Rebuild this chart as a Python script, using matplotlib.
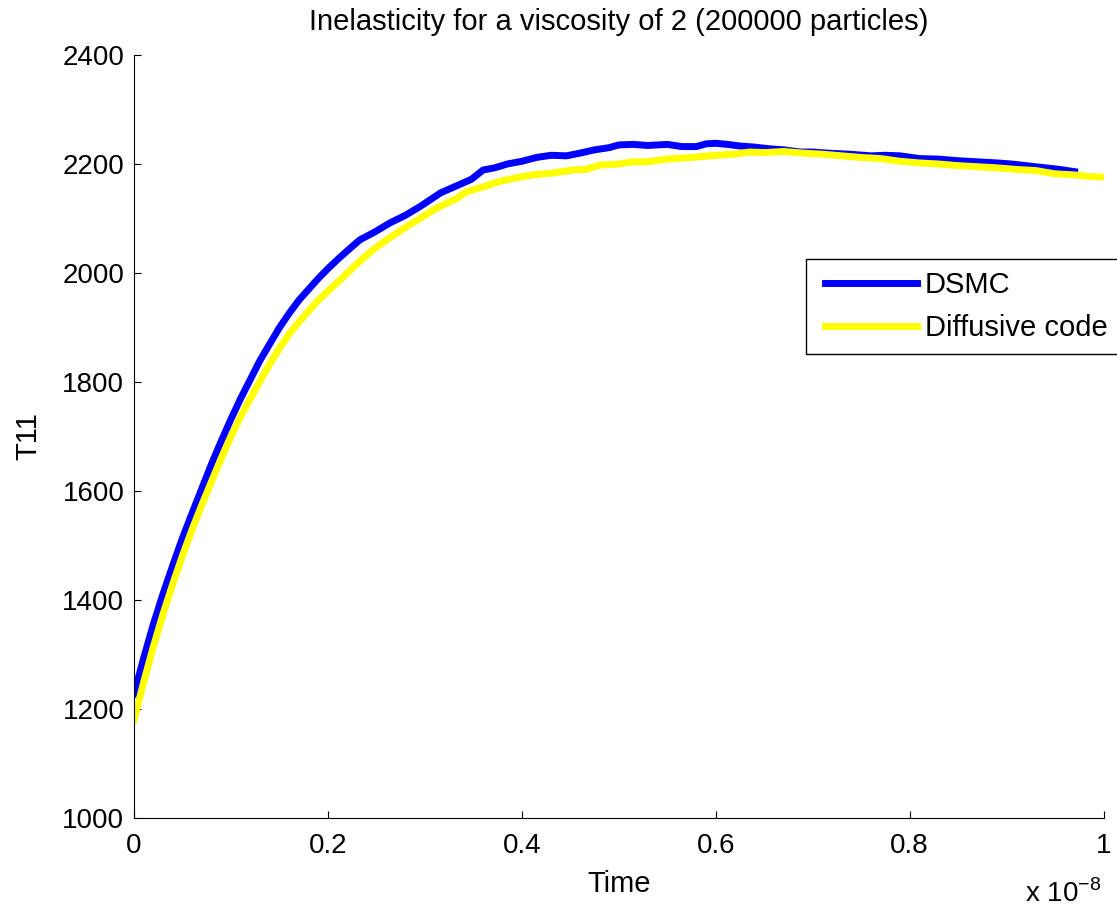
import matplotlib
matplotlib.use("Agg")
import matplotlib.pyplot as plt
from matplotlib.legend_handler import HandlerLine2D

plt.rcParams['font.family'] = ['Liberation Sans', 'DejaVu Sans']

# time (units of 1e-8) and T11
t_dsmc = [0.000, 0.010, 0.020, 0.030, 0.040, 0.050, 0.060, 0.070, 0.080, 0.090,
          0.100, 0.110, 0.120, 0.130, 0.140, 0.150, 0.160, 0.170, 0.180, 0.190,
          0.200, 0.210, 0.222, 0.233, 0.248, 0.264, 0.280, 0.295, 0.306, 0.316,
          0.334, 0.348, 0.360, 0.372, 0.385, 0.400, 0.415, 0.430, 0.446, 0.460,
          0.475, 0.490, 0.500, 0.515, 0.530, 0.550, 0.565, 0.580, 0.590, 0.600,
          0.612, 0.625, 0.640, 0.655, 0.670, 0.687, 0.700, 0.715, 0.738, 0.760,
          0.775, 0.790, 0.810, 0.830, 0.850, 0.870, 0.890, 0.905, 0.920, 0.940,
          0.955, 0.970]
T_dsmc = [1228, 1294, 1356, 1412, 1464, 1514, 1560, 1605, 1650, 1692,
          1732, 1770, 1805, 1840, 1870, 1900, 1926, 1950, 1970, 1990,
          2008, 2025, 2044, 2061, 2075, 2092, 2106, 2122, 2135, 2147,
          2161, 2172, 2189, 2193, 2200, 2205, 2212, 2216, 2215, 2220,
          2226, 2230, 2235, 2236, 2234, 2236, 2232, 2232, 2237, 2238,
          2236, 2233, 2231, 2228, 2226, 2222, 2222, 2220, 2218, 2215,
          2216, 2215, 2210, 2209, 2206, 2204, 2202, 2200, 2197, 2193,
          2190, 2186]

t_diff = [0.000, 0.010, 0.020, 0.030, 0.040, 0.050, 0.060, 0.070, 0.080, 0.090,
          0.100, 0.110, 0.120, 0.130, 0.140, 0.150, 0.160, 0.170, 0.180, 0.190,
          0.205, 0.220, 0.233, 0.246, 0.260, 0.270, 0.281, 0.295, 0.309, 0.320,
          0.333, 0.343, 0.360, 0.377, 0.395, 0.411, 0.430, 0.453, 0.466, 0.480,
          0.500, 0.514, 0.530, 0.549, 0.575, 0.600, 0.618, 0.635, 0.650, 0.670,
          0.690, 0.710, 0.730, 0.750, 0.770, 0.790, 0.810, 0.830, 0.850, 0.870,
          0.890, 0.910, 0.930, 0.950, 0.970, 0.985, 1.000]
T_diff = [1180, 1250, 1315, 1375, 1430, 1482, 1530, 1575, 1618, 1660,
          1700, 1737, 1770, 1802, 1833, 1862, 1888, 1910, 1930, 1950,
          1975, 2000, 2022, 2042, 2060, 2072, 2085, 2100, 2116, 2126,
          2137, 2149, 2158, 2168, 2175, 2180, 2183, 2189, 2190, 2198,
          2200, 2204, 2204, 2209, 2212, 2216, 2218, 2222, 2221, 2223,
          2220, 2218, 2215, 2212, 2210, 2205, 2202, 2200, 2197, 2195,
          2193, 2190, 2188, 2182, 2180, 2177, 2176]

fig = plt.figure(figsize=(11.17, 9.09), dpi=100)
ax = fig.add_axes([0.12, 0.10, 0.868, 0.8395])

ax.plot(t_dsmc, T_dsmc, color='#0000ff', lw=5, label='DSMC')
ax.plot(t_diff, T_diff, color='#ffff00', lw=5, label='Diffusive code')

ax.set_xlim(0, 1)
ax.set_ylim(1000, 2400)
ax.set_xticks([0, 0.2, 0.4, 0.6, 0.8, 1])
ax.set_xticklabels(['0', '0.2', '0.4', '0.6', '0.8', '1'])
ax.set_yticks(range(1000, 2401, 200))

for s in ['top', 'right']:
    ax.spines[s].set_visible(False)
for s in ['left', 'bottom']:
    ax.spines[s].set_linewidth(0.8)
ax.tick_params(direction='in', length=5, width=0.8, labelsize=20)
ax.tick_params(axis='y', pad=7)
ax.tick_params(axis='x', pad=11)

ax.set_title('Inelasticity for a viscosity of 2 (200000 particles)', fontsize=21, pad=18)
ax.set_xlabel('Time', fontsize=21, labelpad=8)
ax.set_ylabel('T11', fontsize=21, labelpad=14)

fig.text(1025 / 1117, 1 - 902 / 909, 'x 10$^{\\mathregular{\u22128}}$', fontsize=20,
         ha='left', va='baseline')

hm = {l: HandlerLine2D(xpad=0.23) for l in ax.get_lines()}
leg = ax.legend(loc='upper left', bbox_to_anchor=(806 / 1117, 1 - 259 / 909),
                bbox_transform=fig.transFigure, fontsize=21, fancybox=False,
                framealpha=1, edgecolor='black', handlelength=3.39,
                handletextpad=0.27, borderpad=0.42, labelspacing=0.5,
                borderaxespad=0, handler_map=hm)
leg.get_frame().set_linewidth(1)

fig.savefig('out.png', dpi=100)
